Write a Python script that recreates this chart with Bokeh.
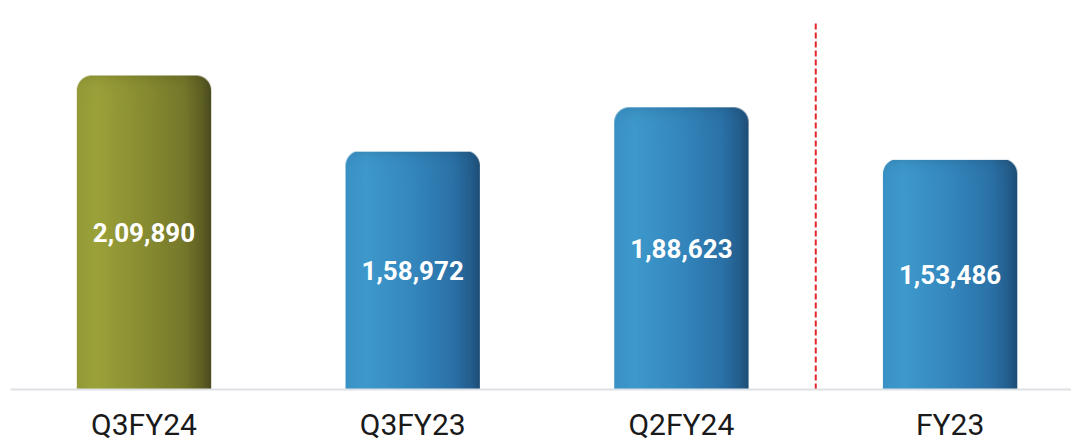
import numpy as np
from bokeh.plotting import figure
from bokeh.models import Range1d, FixedTicker, ColumnDataSource
from bokeh.core.properties import value
from bokeh.embed import file_html
from bokeh.resources import INLINE

# ---- data ----
categories = ["Q3FY24", "Q3FY23", "Q2FY24", "FY23"]
values = [209890, 158972, 188623, 153486]
bar_kind = ["current", "other", "other", "other"]
separator_after = 2  # dashed separator between Q2FY24 and FY23
separator_top = 245000

# ---- styling ----
grad_pos = [0.0, 0.15, 0.5, 0.8, 0.93, 1.0]
grad_colors = {
    "current": ["#939a36", "#9ca23a", "#888c31", "#75782a", "#5e6024", "#4b4b1e"],
    "other": ["#3a91c5", "#3e99cc", "#3487bd", "#2b72a8", "#245f8e", "#1e4e76"],
}

W, H = 1071, 447
BL, BB = 10, 58
frame_w = W - BL
frame_h = H - BB
px_per_x = 268.7
x_start = -133.5 / px_per_x
x_end = x_start + frame_w / px_per_x
px_per_y = 314.0 / 209890
y_end = frame_h / px_per_y
bar_w = 0.5
radius_px = 15.0


def hex2rgb(h):
    h = h.lstrip("#")
    return np.array([int(h[i:i + 2], 16) for i in (0, 2, 4)], float)


def indian(n):
    s = str(n)
    if len(s) <= 3:
        return s
    head, tail = s[:-3], s[-3:]
    parts = []
    while len(head) > 2:
        parts.insert(0, head[-2:])
        head = head[:-2]
    if head:
        parts.insert(0, head)
    return ",".join(parts) + "," + tail


def bar_image(kind, w_px, h_px, r):
    cols = np.array([hex2rgb(c) for c in grad_colors[kind]])
    xs = (np.arange(w_px) + 0.5) / w_px
    row = np.stack([np.interp(xs, grad_pos, cols[:, j]) for j in range(3)], axis=1)
    img = np.repeat(row[None, :, :], h_px, axis=0)  # row 0 = bottom
    depth = (h_px - 1 - np.arange(h_px)) + 0.5  # distance from top, px
    shade = 1 - 0.10 * np.exp(-depth / 6.0)
    img = img * shade[:, None, None]
    px = np.arange(w_px) + 0.5
    cx = np.where(px < r, r - px, np.where(px > w_px - r, px - (w_px - r), 0.0))
    cy = np.clip(r - depth, 0, None)
    dist = np.sqrt(cx[None, :] ** 2 + cy[:, None] ** 2)
    alpha = np.clip(r - dist + 0.5, 0, 1)
    alpha = np.where((cx[None, :] > 0) & (cy[:, None] > 0), alpha, 1.0)
    out = np.empty((h_px, w_px), dtype=np.uint32)
    view = out.view(dtype=np.uint8).reshape((h_px, w_px, 4))
    view[..., 0] = np.clip(img[..., 0], 0, 255).astype(np.uint8)
    view[..., 1] = np.clip(img[..., 1], 0, 255).astype(np.uint8)
    view[..., 2] = np.clip(img[..., 2], 0, 255).astype(np.uint8)
    view[..., 3] = (alpha * 255).astype(np.uint8)
    return out


p = figure(width=W, height=H, output_backend="svg", toolbar_location=None,
           x_range=Range1d(x_start, x_end), y_range=Range1d(0, y_end),
           min_border_left=BL, min_border_right=0, min_border_top=0,
           min_border_bottom=BB)
p.outline_line_color = None
p.background_fill_color = "white"
p.border_fill_color = "white"
p.xgrid.grid_line_color = None
p.ygrid.grid_line_color = None
p.yaxis.visible = False

imgs, xs, dws, dhs = [], [], [], []
bar_px = int(round(bar_w * px_per_x))
for i, (v, kind) in enumerate(zip(values, bar_kind)):
    h_px = int(round(v * px_per_y))
    imgs.append(bar_image(kind, bar_px, h_px, radius_px))
    xs.append(i - bar_w / 2)
    dws.append(bar_w)
    dhs.append(v)
p.image_rgba(image=imgs, x=xs, y=[0] * len(values), dw=dws, dh=dhs)

sx = separator_after + 0.5
p.segment(x0=[sx], y0=[0], x1=[sx], y1=[separator_top], line_color="#e3242b",
          line_width=2, line_dash="6 3")

lab = ColumnDataSource(dict(x=list(range(len(values))), y=[v / 2 for v in values],
                            t=[indian(v) for v in values]))
p.text(x="x", y="y", text="t", source=lab, text_color="white",
       text_font=value("Roboto"), text_font_style="bold", text_font_size="26px",
       text_align="center", text_baseline="middle")

ax = p.xaxis[0]
ax.ticker = FixedTicker(ticks=list(range(len(categories))))
ax.major_label_overrides = {i: c for i, c in enumerate(categories)}
ax.axis_line_color = "#dde1e6"
ax.axis_line_width = 2
ax.major_tick_line_color = None
ax.minor_tick_line_color = None
ax.major_tick_out = 0
ax.major_tick_in = 0
ax.major_label_standoff = 17
ax.major_label_text_font = "Roboto"
ax.major_label_text_font_size = "30px"
ax.major_label_text_color = "#1a1a1a"

open("out.html", "w").write(file_html(p, INLINE))
